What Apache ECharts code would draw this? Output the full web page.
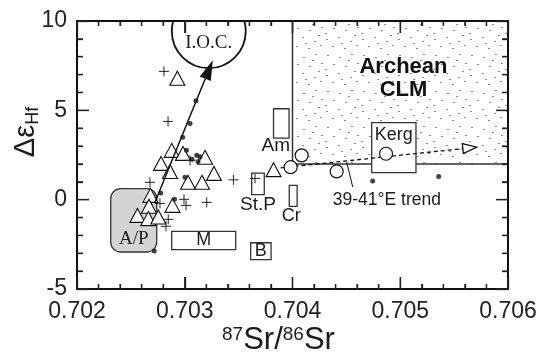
<!DOCTYPE html>
<html>
<head>
<meta charset="utf-8">
<script src="https://cdn.jsdelivr.net/npm/echarts@6/dist/echarts.min.js"></script>
<style>
  html, body { margin: 0; padding: 0; background: #fff; }
  #chart { width: 548px; height: 356px; }
</style>
</head>
<body>
<div id="chart"></div>
<script>
// 87Sr/86Sr against ΔεHf for rift basalts and reference fields

const srTicks = [0.702, 0.703, 0.704, 0.705, 0.706];
const hfTicks = [-5, 0, 5, 10];

// open triangles
const triangles = [
  [0.702931, 6.80], [0.702879, 2.76], [0.702984, 2.59], [0.703188, 2.37],
  [0.702780, 2.03], [0.702863, 1.58], [0.703271, 1.47], [0.703030, 0.97],
  [0.703160, 0.97], [0.702682, 0.24], [0.702668, -0.37], [0.702886, -0.32],
  [0.702561, -0.88], [0.702662, -1.06], [0.702755, -0.97], [0.703824, 1.68]
];

// crosses
const crosses = [
  [0.702807, 7.18], [0.702845, 4.38], [0.702677, 0.97], [0.702770, -0.21],
  [0.702993, 0.02], [0.703012, -0.32], [0.703204, -0.15], [0.702847, -1.10],
  [0.702826, -1.49], [0.703452, 1.11], [0.703652, 1.19], [0.703049, 2.20]
];

// filled dots
const dots = [
  [0.703104, 5.53], [0.703049, 4.27], [0.702981, 3.50], [0.703016, 2.76],
  [0.703111, 2.48], [0.703142, 2.40], [0.703123, 2.14], [0.703067, 2.26],
  [0.703002, 1.26], [0.702777, 0.38], [0.702905, 0.02], [0.702717, -2.87],
  [0.704744, 1.04], [0.705357, 1.30]
];

// open circles (39-41°E)
const circles = [
  [0.704085, 2.48], [0.703983, 1.82], [0.704410, 1.58], [0.704868, 2.57]
];

// compositional fields: [label, srMin, srMax, hfMin, hfMax]
const fields = [
  ['Am',   0.703824, 0.703968,  3.45,  5.09],
  ['St.P', 0.703621, 0.703738,  0.28,  1.49],
  ['Cr',   0.703970, 0.704043, -0.37,  0.80],
  ['M',    0.702879, 0.703473, -2.80, -1.77],
  ['B',    0.703612, 0.703801, -3.36, -2.41],
  ['Kerg', 0.704735, 0.705146,  1.51,  4.31]
];

const apField = [0.702313, 0.702740, -2.93, 0.62];     // srMin, srMax, hfMin, hfMax
const clmField = [0.704, 0.706, 2, 10];
const iocField = [0.703223, 9.43, 0.000343];           // sr, hf, radius in Sr units
const iocTrend = [[0.70272, -0.2], [0.70326, 7.8]];
const eastTrend = [[0.70389, 1.78], [0.70571, 2.94]];

const SANS = '"Liberation Sans", Arial, Helvetica, sans-serif';
const SERIF = '"Liberation Serif", "Times New Roman", Times, serif';
const INK = '#1b1b1b';

// speckled fill for the lithospheric mantle field
function stipplePattern() {
  const c = document.createElement('canvas');
  c.width = 36; c.height = 36;
  const g = c.getContext('2d');
  g.fillStyle = '#8a8a8a';
  const specks = [
    [2, 3], [14, 1], [26, 5], [8, 10], [20, 12], [32, 9],
    [3, 19], [15, 21], [27, 18], [9, 28], [21, 30], [33, 27],
    [1, 33], [30, 35], [17, 7], [24, 24]
  ];
  specks.forEach(([x, y]) => g.fillRect(x, y, 2, 1));
  return c;
}

function rectOf(api, x1, x2, y1, y2) {
  const a = api.coord([x1, y2]);
  const b = api.coord([x2, y1]);
  return { x: a[0], y: a[1], width: b[0] - a[0], height: b[1] - a[1] };
}

function arrowHead(p0, p1, len, half) {
  const dx = p1[0] - p0[0], dy = p1[1] - p0[1];
  const L = Math.hypot(dx, dy);
  const ux = dx / L, uy = dy / L;
  const bx = p1[0] - ux * len, by = p1[1] - uy * len;
  return {
    base: [bx, by],
    points: [[p1[0], p1[1]], [bx - uy * half, by + ux * half], [bx + uy * half, by - ux * half]]
  };
}

function fieldLabel(name, r) {
  const cx = r.x + r.width / 2, cy = r.y + r.height / 2;
  const bottom = r.y + r.height;
  switch (name) {
    case 'Am':   return { x: r.x + r.width + 1, y: bottom + 8, align: 'right', size: 19 };
    case 'St.P': return { x: cx, y: bottom + 10, align: 'center', size: 19 };
    case 'Cr':   return { x: cx - 2, y: bottom + 10, align: 'center', size: 18 };
    case 'Kerg': return { x: cx, y: r.y + 12, align: 'center', size: 18 };
    default:     return { x: cx, y: cy, align: 'center', size: 18 };
  }
}

// major ticks plus their subdivisions along one axis
function tickRun(majors, parts) {
  const out = [];
  for (let i = 0; i < majors.length; i++) {
    out.push({ v: majors[i], major: true });
    if (i < majors.length - 1) {
      const step = (majors[i + 1] - majors[i]) / parts;
      for (let k = 1; k < parts; k++) out.push({ v: majors[i] + step * k, major: false });
    }
  }
  return out;
}

const chart = echarts.init(document.getElementById('chart'), null, { renderer: 'canvas' });

const plotRect = { left: 77, right: 40, top: 21, bottom: 67, containLabel: false };
const tickStyle = () => ({ color: '#222', width: 1.3 });

// the frame: bottom/left axes carry labels, top/right axes repeat the ticks
function xAxisDef(pos, labels, gridIndex) {
  return {
    type: 'value', gridIndex, position: pos, min: srTicks[0], max: srTicks[srTicks.length - 1],
    interval: 0.001, z: 10,
    axisLine: { show: true, onZero: false, lineStyle: { color: '#111', width: 2 } },
    axisTick: { show: true, inside: true, length: 12, lineStyle: tickStyle() },
    minorTick: { show: true, splitNumber: 5, length: 5, lineStyle: tickStyle() },
    splitLine: { show: false },
    axisLabel: {
      show: labels, margin: 11, color: '#222', fontSize: 23, fontFamily: SANS,
      formatter: v => v.toFixed(3)
    }
  };
}
function yAxisDef(pos, labels, gridIndex) {
  return {
    type: 'value', gridIndex, position: pos, min: hfTicks[0], max: hfTicks[hfTicks.length - 1],
    interval: 5, z: 10,
    axisLine: { show: true, onZero: false, lineStyle: { color: '#111', width: 2 } },
    axisTick: { show: true, inside: true, length: 12, lineStyle: tickStyle() },
    minorTick: { show: true, splitNumber: 5, length: 6, lineStyle: tickStyle() },
    splitLine: { show: false },
    axisLabel: { show: labels, margin: 10, color: '#222', fontSize: 23, fontFamily: SANS }
  };
}

const clmPattern = { image: stipplePattern(), repeat: 'repeat' };

chart.setOption({
  animation: false,
  backgroundColor: '#fff',
  grid: [Object.assign({}, plotRect), Object.assign({}, plotRect)],
  xAxis: [xAxisDef('bottom', true, 0), xAxisDef('top', false, 1)],
  yAxis: [yAxisDef('left', true, 0), yAxisDef('right', false, 1)],
  graphic: [
    {
      type: 'text', left: 222, top: 325, z: 20,
      style: {
        text: '{s|87}{m|Sr/}{s|86}{m|Sr}',
        rich: {
          s: { fontSize: 19, fontFamily: SANS, fill: INK, verticalAlign: 'top', lineHeight: 30 },
          m: { fontSize: 31, fontFamily: SANS, fill: INK, lineHeight: 30 }
        }
      }
    },
    {
      type: 'text', x: 26, y: 132, rotation: Math.PI / 2, z: 20,
      style: {
        text: '{m|Δε}{s|Hf}', align: 'center', verticalAlign: 'middle',
        textAlign: 'center', textVerticalAlign: 'middle',
        rich: {
          m: { fontSize: 29, fontFamily: SANS, fill: INK, lineHeight: 32 },
          s: { fontSize: 18, fontFamily: SANS, fill: INK, verticalAlign: 'bottom', lineHeight: 32 }
        }
      }
    }
  ],
  series: [
    {
      // Archean lithospheric mantle field
      type: 'custom', z: 1, clip: true,
      data: [[clmField[0], clmField[2]]],
      renderItem: (params, api) => {
        const r = rectOf(api, clmField[0], clmField[1], clmField[2], clmField[3]);
        const label = api.coord([0.70503, 6.8]);
        return {
          type: 'group', children: [
            { type: 'rect', shape: r, style: { fill: clmPattern } },
            { type: 'polyline', shape: { points: [[r.x, r.y], [r.x, r.y + r.height], [r.x + r.width, r.y + r.height]] },
              style: { stroke: '#333', lineWidth: 1.5, fill: null } },
            { type: 'text', x: label[0], y: label[1],
              style: { text: 'Archean\nCLM', font: 'bold 22px ' + SANS, fill: '#111',
                       align: 'center', verticalAlign: 'middle', lineHeight: 23 } }
          ]
        };
      }
    },
    {
      // Afar / Pan-African field
      type: 'custom', z: 2,
      data: [[apField[0], apField[2]]],
      renderItem: (params, api) => {
        const r = rectOf(api, apField[0], apField[1], apField[2], apField[3]);
        return {
          type: 'group', children: [
            { type: 'rect', shape: Object.assign({ r: 10 }, r), style: { fill: '#d4d4d4', stroke: '#333', lineWidth: 1.3 } },
            { type: 'text', x: r.x + r.width / 2, y: r.y + r.height - 13,
              style: { text: 'A/P', font: '19px ' + SERIF, fill: INK, align: 'center', verticalAlign: 'middle' } }
          ]
        };
      }
    },
    {
      // I.O.C. field, cut by the upper frame
      type: 'custom', z: 2, clip: true,
      data: [[iocField[0], iocField[1]]],
      renderItem: (params, api) => {
        const c = api.coord([iocField[0], iocField[1]]);
        const e = api.coord([iocField[0] + iocField[2], iocField[1]]);
        const rad = e[0] - c[0];
        return {
          type: 'group', children: [
            { type: 'circle', shape: { cx: c[0], cy: c[1], r: rad }, style: { fill: '#fff', stroke: '#111', lineWidth: 1.8 } },
            { type: 'text', x: c[0], y: c[1] + 12,
              style: { text: 'I.O.C.', font: '19px ' + SERIF, fill: INK, align: 'center', verticalAlign: 'middle' } }
          ]
        };
      }
    },
    {
      type: 'custom', z: 2,
      data: fields.map(f => [f[1], f[3]]),
      renderItem: (params, api) => {
        const f = fields[params.dataIndex];
        const r = rectOf(api, f[1], f[2], f[3], f[4]);
        const t = fieldLabel(f[0], r);
        return {
          type: 'group', children: [
            { type: 'rect', shape: r, style: { fill: '#fff', stroke: '#333', lineWidth: 1.3 } },
            { type: 'text', x: t.x, y: t.y,
              style: { text: f[0], font: t.size + 'px ' + SANS, fill: INK, align: t.align, verticalAlign: 'middle' } }
          ]
        };
      }
    },
    {
      type: 'scatter', z: 3, symbol: 'triangle', symbolSize: [15, 14],
      itemStyle: { color: '#fff', borderColor: '#111', borderWidth: 1.1, opacity: 1 },
      data: triangles
    },
    {
      type: 'custom', z: 4,
      data: crosses,
      renderItem: (params, api) => {
        const p = api.coord([api.value(0), api.value(1)]);
        const h = 5;
        return {
          type: 'group', children: [
            { type: 'line', shape: { x1: p[0] - h, y1: p[1], x2: p[0] + h, y2: p[1] }, style: { stroke: '#222', lineWidth: 1 } },
            { type: 'line', shape: { x1: p[0], y1: p[1] - h, x2: p[0], y2: p[1] + h }, style: { stroke: '#222', lineWidth: 1 } }
          ]
        };
      }
    },
    {
      // I.O.C. trend arrow
      type: 'custom', z: 5,
      data: [iocTrend[0]],
      renderItem: (params, api) => {
        const p0 = api.coord(iocTrend[0]);
        const p1 = api.coord(iocTrend[1]);
        const h = arrowHead(p0, p1, 20, 6);
        return {
          type: 'group', children: [
            { type: 'line', shape: { x1: p0[0], y1: p0[1], x2: h.base[0], y2: h.base[1] }, style: { stroke: '#111', lineWidth: 1.5 } },
            { type: 'polygon', shape: { points: h.points }, style: { fill: '#111' } }
          ]
        };
      }
    },
    {
      // 39-41°E trend
      type: 'custom', z: 5,
      data: [eastTrend[0]],
      renderItem: (params, api) => {
        const p0 = api.coord(eastTrend[0]);
        const p1 = api.coord(eastTrend[1]);
        const h = arrowHead(p0, p1, 14, 5);
        const l0 = api.coord([0.704503, 2.10]);
        const l1 = api.coord([0.704559, 0.71]);
        return {
          type: 'group', children: [
            { type: 'line', shape: { x1: p0[0], y1: p0[1], x2: h.base[0], y2: h.base[1] },
              style: { stroke: '#111', lineWidth: 1.3, lineDash: [4, 3] } },
            { type: 'polygon', shape: { points: h.points }, style: { fill: '#fff', stroke: '#111', lineWidth: 1.3 } },
            { type: 'line', shape: { x1: l0[0], y1: l0[1], x2: l1[0], y2: l1[1] }, style: { stroke: '#111', lineWidth: 1 } },
            { type: 'text', x: l1[0] - 20, y: l1[1] + 13,
              style: { text: '39-41°E trend', font: '17.5px ' + SANS, fill: INK, align: 'left', verticalAlign: 'middle' } }
          ]
        };
      }
    },
    {
      type: 'scatter', z: 6, symbol: 'circle', symbolSize: 5,
      itemStyle: { color: '#111' },
      data: dots
    },
    {
      type: 'scatter', z: 6, symbol: 'circle', symbolSize: 13,
      itemStyle: { color: '#fff', borderColor: '#111', borderWidth: 1.2, opacity: 1 },
      data: circles
    },
    {
      // inward ticks on all four sides of the frame, placed by the axis scales
      type: 'custom', z: 11, clip: false,
      data: [[srTicks[0], hfTicks[0]]],
      renderItem: (params, api) => {
        const x0 = srTicks[0], x1 = srTicks[srTicks.length - 1];
        const y0 = hfTicks[0], y1 = hfTicks[hfTicks.length - 1];
        const lines = [];
        const st = { stroke: '#222', lineWidth: 1.3 };
        tickRun(srTicks, 5).forEach(t => {
          const len = t.major ? 12 : 5;
          const b = api.coord([t.v, y0]), u = api.coord([t.v, y1]);
          lines.push({ type: 'line', shape: { x1: b[0], y1: b[1], x2: b[0], y2: b[1] - len }, style: st });
          lines.push({ type: 'line', shape: { x1: u[0], y1: u[1], x2: u[0], y2: u[1] + len }, style: st });
        });
        tickRun(hfTicks, 5).forEach(t => {
          const len = t.major ? 12 : 6;
          const l = api.coord([x0, t.v]), r = api.coord([x1, t.v]);
          lines.push({ type: 'line', shape: { x1: l[0], y1: l[1], x2: l[0] + len, y2: l[1] }, style: st });
          lines.push({ type: 'line', shape: { x1: r[0], y1: r[1], x2: r[0] - len, y2: r[1] }, style: st });
        });
        return { type: 'group', children: lines };
      }
    }
  ]
});
</script>
</body>
</html>
